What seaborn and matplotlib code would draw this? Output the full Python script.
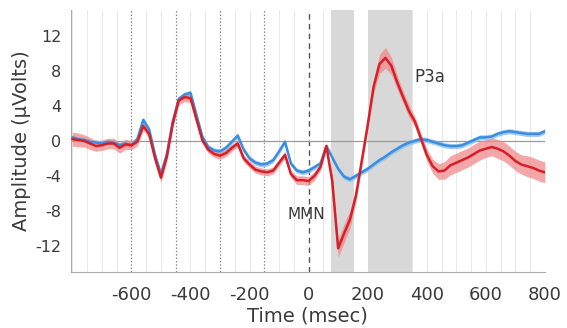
import numpy as np
import pandas as pd
import matplotlib
matplotlib.use("Agg")
import matplotlib.pyplot as plt
from matplotlib.ticker import MultipleLocator
import seaborn as sns

# Grand-average ERP waveforms (µV), sampled every 20 ms
time_ms = list(range(-800, 801, 20))

deviant = [
    0.2, 0.1, 0.0, -0.3, -0.6, -0.5, -0.3, -0.3, -0.8, -0.4,
    -0.5, -0.1, 1.7, 0.8, -2.0, -4.2, -1.8, 2.0, 4.6, 5.0,
    4.9, 2.5, 0.1, -1.0, -1.5, -1.7, -1.4, -0.8, -0.3, -2.0,
    -2.7, -3.3, -3.5, -3.6, -3.4, -2.5, -1.6, -3.8, -4.5, -4.5,
    -4.6, -4.0, -3.0, -0.6, -4.6, -12.3, -10.6, -9.0, -6.3, -2.3,
    1.8, 6.2, 8.8, 9.5, 8.6, 6.7, 5.0, 3.4, 2.2, 0.3,
    -1.6, -2.9, -3.5, -3.4, -2.8, -2.5, -2.2, -1.9, -1.5, -1.1,
    -0.9, -0.7, -0.9, -1.2, -1.7, -2.3, -2.7, -2.9, -3.1, -3.4,
    -3.6,
]

standard = [
    0.4, 0.2, 0.1, -0.1, -0.2, -0.3, -0.1, -0.2, -0.5, -0.3,
    -0.5, 0.2, 2.4, 1.3, -1.6, -3.8, -1.5, 2.2, 4.8, 5.3,
    5.5, 3.0, 0.5, -0.7, -1.1, -1.2, -0.8, -0.1, 0.6, -1.0,
    -2.0, -2.5, -2.7, -2.6, -2.2, -1.2, -0.1, -2.6, -3.4, -3.6,
    -3.4, -3.0, -2.6, -0.6, -1.9, -3.2, -4.1, -4.4, -4.0, -3.6,
    -3.2, -2.7, -2.2, -1.8, -1.3, -0.9, -0.5, -0.2, 0.0, 0.2,
    0.1, -0.1, -0.3, -0.5, -0.6, -0.6, -0.5, -0.2, 0.1, 0.4,
    0.4, 0.5, 0.8, 1.0, 1.1, 1.0, 0.9, 0.8, 0.8, 0.8,
    1.1,
]

# Standard error of the mean for each waveform
deviant_sem = [
    0.8, 0.8, 0.7, 0.7, 0.6, 0.6, 0.6, 0.6, 0.6, 0.6,
    0.5, 0.5, 0.5, 0.5, 0.5, 0.6, 0.5, 0.5, 0.5, 0.5,
    0.5, 0.5, 0.4, 0.4, 0.4, 0.4, 0.4, 0.4, 0.4, 0.4,
    0.4, 0.4, 0.4, 0.4, 0.4, 0.4, 0.4, 0.4, 0.5, 0.5,
    0.5, 0.5, 0.4, 0.4, 0.6, 1.0, 1.1, 1.0, 0.8, 0.6,
    0.6, 0.8, 1.1, 1.2, 1.0, 0.8, 0.7, 0.7, 0.6, 0.6,
    0.7, 0.8, 0.9, 1.0, 1.1, 1.1, 1.1, 1.1, 1.1, 1.1,
    1.0, 1.0, 1.1, 1.1, 1.1, 1.1, 1.1, 1.2, 1.2, 1.2,
    1.2,
]
standard_sem = [0.3] * len(time_ms)

# Analysis windows (ms)
mmn_window = (75, 155)
p3a_window = (200, 350)

# Reference markers (ms)
dotted_marks = [-600, -450, -300, -150]
onset = 0

x_ticks = [-600, -400, -200, 0, 200, 400, 600, 800]
y_ticks = [12, 8, 4, 0, -4, -8, -12]

red = "#d81e26"
red_band = "#ef8a8c"
blue = "#3a8ee0"
blue_band = "#8ec1ee"
text_col = "#3a3a3a"

sns.set_theme(style="white")
plt.rcParams["font.family"] = ["DejaVu Sans"]

df = pd.DataFrame({
    "time": time_ms * 2,
    "amp": deviant + standard,
    "cond": ["deviant"] * len(time_ms) + ["standard"] * len(time_ms),
})

fig = plt.figure(figsize=(5.67, 3.28), dpi=100)
ax = fig.add_axes([0.125, 0.171, 0.836, 0.799])

# background grid every 50 ms
for t in range(-800, 801, 50):
    if t in dotted_marks or t == onset:
        continue
    ax.axvline(t, color="#e8e8e8", lw=0.7, zorder=0)
for t in dotted_marks:
    ax.axvline(t, color="#8a8a8a", lw=0.9, ls=(0, (1.2, 1.5)), zorder=1)
ax.axvline(onset, color="#555555", lw=1.0, ls=(0, (4, 3)), zorder=1)

ax.axvspan(*mmn_window, color="#d8d8d8", lw=0, zorder=1)
ax.axvspan(*p3a_window, color="#d8d8d8", lw=0, zorder=1)

ax.axhline(0, color="#9a9a9a", lw=0.9, zorder=2)

t_arr = np.array(time_ms)
dev = np.array(deviant)
std = np.array(standard)
ax.fill_between(t_arr, std - np.array(standard_sem), std + np.array(standard_sem),
                color=blue_band, alpha=0.8, lw=0, zorder=3)
ax.fill_between(t_arr, dev - np.array(deviant_sem), dev + np.array(deviant_sem),
                color=red_band, alpha=0.75, lw=0, zorder=3)

sns.lineplot(data=df, x="time", y="amp", hue="cond",
             palette={"deviant": red, "standard": blue},
             hue_order=["standard", "deviant"],
             lw=1.8, legend=False, ax=ax, zorder=4)

ax.text(-8, -8.4, "MMN", ha="center", va="center", fontsize=11, color=text_col, zorder=5)
ax.text(410, 7.3, "P3a", ha="center", va="center", fontsize=12, color=text_col, zorder=5)

ax.set_xlim(-805, 800)
ax.set_ylim(-15, 15)
ax.set_xticks(x_ticks)
ax.set_yticks(y_ticks)
ax.set_xticklabels([str(v) for v in x_ticks])
ax.set_yticklabels([str(v) for v in y_ticks])
ax.xaxis.set_minor_locator(MultipleLocator(50))
ax.yaxis.set_minor_locator(MultipleLocator(1))
ax.tick_params(axis="both", which="major", length=3, width=0.8, color="#999999",
               labelcolor=text_col)
ax.tick_params(axis="both", which="minor", length=1.8, width=0.6, color="#999999")
ax.tick_params(axis="x", which="major", labelsize=13, pad=7)
ax.tick_params(axis="y", which="major", labelsize=11.5, pad=4)

ax.set_xlabel("Time (msec)", fontsize=14, color=text_col, labelpad=2)
ax.set_ylabel("Amplitude (\u03bcVolts)", fontsize=14, color=text_col, labelpad=3)

for s in ["top", "right"]:
    ax.spines[s].set_visible(False)
for s in ["left", "bottom"]:
    ax.spines[s].set_color("#aaaaaa")
    ax.spines[s].set_linewidth(0.8)

fig.savefig("out.png", dpi=100)
